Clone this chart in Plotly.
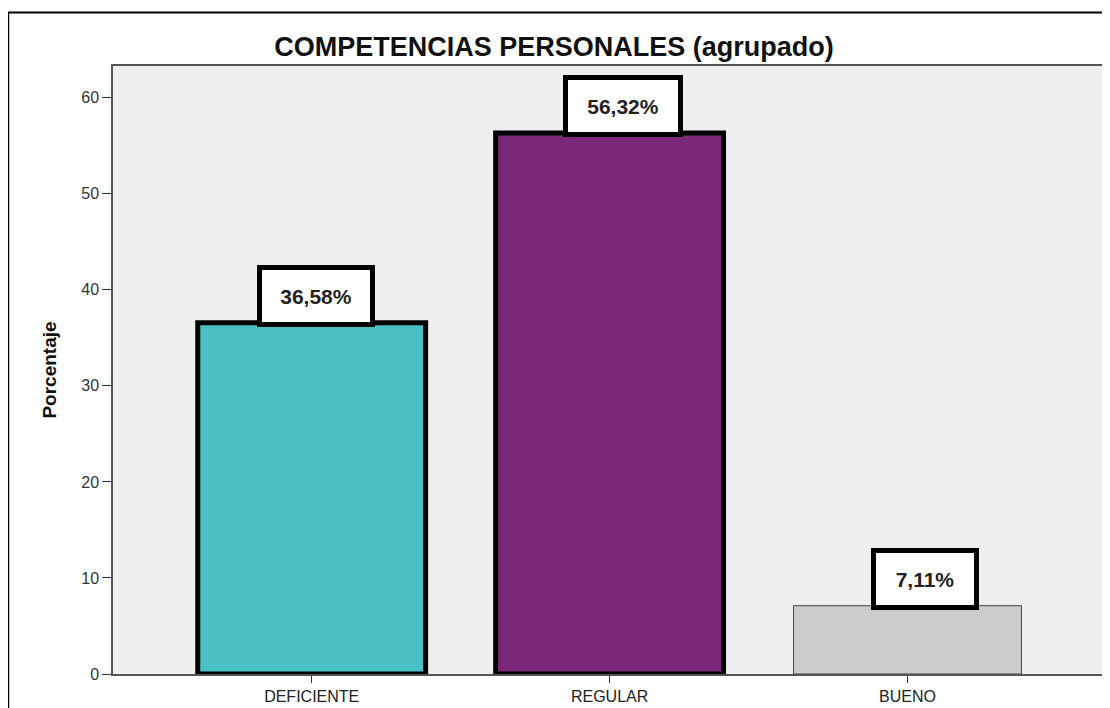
import plotly.graph_objects as go

categories = ["DEFICIENTE", "REGULAR", "BUENO"]
values = [36.58, 56.32, 7.11]
labels = ["36,58%", "56,32%", "7,11%"]
colors = ["#48C0C4", "#7B277A", "#CCCCCC"]
line_widths = [5, 5, 1]
line_colors = ["#000000", "#000000", "#444444"]
box_widths = [108, 110, 98]
box_shifts = [4, 13, 18]
y_ticks = [0, 10, 20, 30, 40, 50, 60]

# page body has an 8px margin; figure origin sits at (8, 8) in the page
OFF = 8
W, H = 1102, 700
ml, mr, mt, mb = 105, 3, 58, 28
FONT = "Arial, Liberation Sans, sans-serif"

fig = go.Figure()
fig.add_trace(go.Bar(
    x=list(range(len(categories))), y=values,
    width=0.765,
    marker=dict(color=colors, line=dict(color=line_colors, width=line_widths)),
    hoverinfo="skip",
))

for i, (v, lab) in enumerate(zip(values, labels)):
    fig.add_annotation(
        x=i, y=v, xref="x", yref="y", text="<b>" + lab + "</b>",
        showarrow=False, yanchor="bottom", xanchor="center",
        xshift=box_shifts[i], yshift=-4,
        font=dict(family=FONT, size=21, color="#222222"),
        bgcolor="#FFFFFF", bordercolor="#000000", borderwidth=5, borderpad=0,
        width=box_widths[i], height=52,
    )

pw = W - ml - mr
ph = H - mt - mb
fig.add_shape(
    type="rect", xref="paper", yref="paper",
    x0=(0 - ml) / pw, x1=(W + 30 - ml) / pw,
    y0=(H - mb - (H + 30)) / ph, y1=(H - mb - 4) / ph,
    line=dict(color="#000000", width=2), fillcolor="rgba(0,0,0,0)", layer="below",
)

fig.update_layout(
    width=W, height=H,
    margin=dict(l=ml, r=mr, t=mt, b=mb),
    paper_bgcolor="#FFFFFF", plot_bgcolor="#EFEFEF",
    showlegend=False,
    title=dict(text="<b>COMPETENCIAS PERSONALES (agrupado)</b>", x=(554 - OFF) / W, xanchor="center",
               y=1 - (47 - OFF) / H, yanchor="middle",
               font=dict(family=FONT, size=27, color="#111111")),
    xaxis=dict(
        range=[-0.667, 2.663], tickmode="array", tickvals=list(range(len(categories))),
        ticktext=categories, ticks="outside", ticklen=7, tickcolor="#333333",
        showline=True, linecolor="#555555", linewidth=1.5, mirror=True,
        showgrid=False, zeroline=False,
        tickfont=dict(family=FONT, size=16, color="#222222"),
    ),
    yaxis=dict(
        range=[0, 63.3], tickmode="array", tickvals=y_ticks,
        ticks="outside", ticklen=9, tickcolor="#333333",
        showline=True, linecolor="#555555", linewidth=1.5, mirror=True,
        showgrid=False, zeroline=False,
        tickfont=dict(family=FONT, size=16, color="#333333"),
        title=dict(text="<b>Porcentaje</b>", standoff=20,
                   font=dict(family=FONT, size=19, color="#111111")),
    ),
)

fig.write_html("out.html")
